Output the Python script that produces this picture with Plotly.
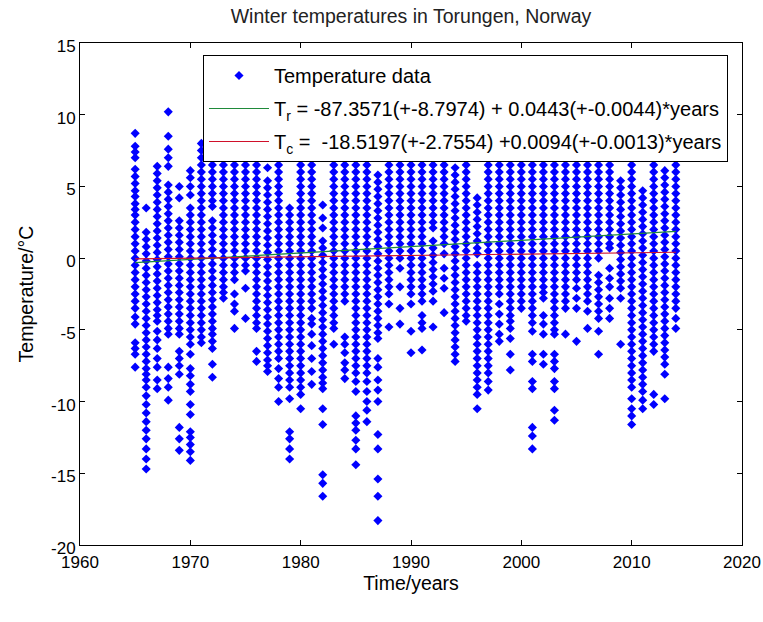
import plotly.graph_objects as go

# Winter (Dec-Feb) seasons shown as columns
winters = list(range(1965, 2015))

# Daily winter temperatures (deg C) per season
t1965 = [8.7, 7.8, 7.4, 7.0, 6.2, 5.7, 5.2, 4.7, 4.3, 3.8, 3.4, 3.0, 2.5, 2.0, 1.5, 1.0, 0.5, 0.0, -0.5, -1.0, -1.5, -2.0, -2.5, -3.0, -3.5, -4.1, -4.6, -5.9, -6.3, -6.7, -7.6]
t1966 = [3.5, 1.8, 1.3, 0.8, 0.3, -0.2, -0.7, -1.2, -1.7, -2.2, -2.7, -3.2, -3.7, -4.2, -4.7, -5.2, -5.7, -6.2, -6.7, -7.2, -7.7, -8.1, -8.5, -9.0, -9.6, -10.2, -10.8, -11.4, -12.0, -12.6, -13.3, -14.0, -14.7]
t1967 = [6.4, 5.9, 5.4, 4.9, 4.4, 3.9, 3.4, 2.9, 2.4, 1.9, 1.4, 0.9, 0.4, -0.1, -0.6, -1.1, -1.6, -2.1, -2.6, -3.1, -3.6, -4.0, -4.4, -5.1, -5.7, -6.3, -7.0, -7.6, -8.5, -9.1]
t1968 = [10.2, 8.5, 7.6, 7.0, 6.4, 5.1, 4.6, 4.1, 3.6, 3.1, 2.6, 2.1, 1.6, 1.1, 0.6, 0.1, -0.4, -0.9, -1.4, -1.9, -2.4, -2.9, -3.4, -3.9, -4.4, -4.9, -5.3, -7.6, -8.4, -9.0, -9.9]
t1969 = [5.0, 4.2, 2.6, 2.1, 1.6, 1.1, 0.6, 0.1, -0.4, -0.9, -1.4, -1.9, -2.4, -2.9, -3.4, -3.9, -4.4, -4.9, -5.3, -6.5, -7.0, -7.5, -8.1, -11.8, -12.6, -13.4]
t1970 = [6.1, 5.6, 5.0, 4.4, 3.5, 3.0, 2.5, 2.0, 1.5, 1.0, 0.5, 0.0, -0.5, -1.0, -1.5, -2.0, -2.5, -3.0, -3.5, -4.0, -4.5, -5.0, -5.5, -6.0, -6.7, -7.7, -8.2, -8.8, -9.3, -10.2, -10.9, -12.1, -12.5, -13.0, -13.5, -14.1]
t1971 = [8.0, 7.5, 7.0, 6.5, 6.0, 5.5, 5.0, 4.5, 4.0, 3.5, 3.0, 2.5, 2.0, 1.5, 1.0, 0.5, 0.0, -0.5, -1.0, -1.5, -2.0, -2.5, -3.0, -3.5, -4.0, -4.5, -5.0, -5.5, -5.9]
t1972 = [8.5, 8.0, 7.5, 7.0, 6.5, 6.0, 5.5, 5.0, 4.5, 4.0, 3.6, 2.6, 2.1, 1.6, 1.1, 0.6, 0.1, -0.4, -0.9, -1.4, -1.9, -2.4, -2.9, -3.4, -3.9, -4.4, -4.9, -5.3, -5.8, -6.3, -7.4, -8.3]
t1973 = [8.5, 8.0, 7.5, 7.0, 6.5, 6.0, 5.5, 5.0, 4.5, 4.0, 3.5, 3.0, 2.5, 2.0, 1.5, 1.0, 0.5, 0.0, -0.5, -1.0, -1.5, -2.0, -2.4, -2.8]
t1974 = [8.5, 8.0, 7.5, 7.0, 6.5, 6.0, 5.5, 5.0, 4.5, 4.0, 3.5, 3.0, 2.5, 2.0, 1.5, 1.0, 0.5, 0.0, -0.5, -1.0, -1.5, -2.5, -3.2, -3.7, -4.9]
t1975 = [8.5, 8.0, 7.5, 7.0, 6.5, 6.0, 5.5, 5.0, 4.5, 4.0, 3.5, 3.0, 2.5, 2.0, 1.5, 1.0, 0.5, 0.0, -0.5, -0.9, -2.1, -4.2]
t1976 = [8.5, 8.0, 7.5, 7.0, 6.5, 6.0, 5.5, 5.0, 4.5, 4.0, 3.5, 3.0, 2.5, 2.0, 1.5, 1.0, 0.5, 0.0, -0.5, -1.0, -1.5, -2.0, -2.5, -3.0, -3.5, -4.0, -4.5, -4.9, -6.5, -7.2]
t1977 = [6.3, 5.4, 4.9, 4.4, 3.9, 3.4, 2.9, 2.4, 1.9, 1.4, 0.9, 0.4, -0.1, -0.6, -1.1, -1.6, -2.1, -2.6, -3.1, -3.6, -4.1, -4.6, -5.1, -5.6, -6.1, -6.6, -7.1, -7.5, -7.9]
t1978 = [8.5, 8.0, 7.5, 7.0, 6.5, 6.0, 5.5, 5.0, 4.5, 4.0, 3.5, 3.0, 2.5, 2.0, 1.5, 1.0, 0.5, 0.0, -0.5, -1.0, -1.5, -2.0, -2.5, -3.0, -3.5, -4.0, -4.5, -5.0, -5.5, -6.0, -6.5, -7.0, -7.7, -8.4, -9.0, -10.0]
t1979 = [3.5, 3.0, 2.5, 2.0, 1.5, 1.0, 0.5, 0.0, -0.5, -1.0, -1.5, -2.0, -2.5, -3.0, -3.5, -4.0, -4.5, -5.0, -5.5, -6.0, -6.5, -7.0, -7.5, -8.0, -8.5, -9.0, -9.8, -12.1, -12.6, -13.3, -14.0]
t1980 = [8.5, 8.0, 7.5, 7.0, 6.5, 6.0, 5.5, 5.0, 4.5, 4.0, 3.5, 3.0, 2.5, 2.0, 1.5, 1.0, 0.5, 0.0, -0.5, -1.0, -1.5, -2.0, -2.5, -3.0, -3.5, -4.0, -4.5, -5.0, -5.5, -6.0, -6.5, -7.0, -7.5, -8.0, -8.5, -9.0, -9.5, -10.5]
t1981 = [8.5, 8.0, 7.5, 7.0, 6.5, 6.0, 5.5, 5.0, 4.5, 4.0, 3.5, 3.0, 2.5, 2.0, 1.5, 1.0, 0.5, 0.0, -0.5, -1.0, -1.5, -2.0, -2.5, -3.0, -3.5, -4.2, -4.6, -5.3, -6.1, -7.0, -7.9, -8.8]
t1982 = [3.7, 2.8, 2.1, 1.2, 0.7, 0.2, -0.3, -0.8, -1.3, -1.8, -2.3, -2.8, -3.3, -3.8, -4.3, -4.8, -5.3, -5.8, -6.3, -6.8, -7.3, -7.8, -8.3, -8.7, -9.1, -10.5, -11.6, -15.1, -15.7, -16.6]
t1983 = [8.5, 8.0, 7.5, 7.0, 6.5, 6.0, 5.5, 5.0, 4.5, 4.0, 3.5, 3.0, 2.5, 2.0, 1.5, 1.0, 0.5, 0.0, -0.5, -1.0, -1.5, -2.0, -2.5, -3.0, -3.5, -4.0, -4.5, -4.9, -6.0]
t1984 = [8.5, 8.0, 7.5, 7.0, 6.5, 6.0, 5.5, 5.0, 4.5, 4.0, 3.5, 3.0, 2.5, 2.0, 1.5, 1.0, 0.5, 0.0, -0.5, -1.0, -1.5, -2.0, -2.5, -3.0, -5.5, -6.0, -6.6, -7.3, -7.8, -8.4]
t1985 = [8.5, 8.0, 7.5, 7.0, 6.5, 6.0, 5.5, 5.0, 4.5, 4.0, 3.5, 3.0, 2.5, 2.0, 1.5, 1.0, 0.5, 0.0, -0.5, -1.0, -1.5, -2.0, -2.5, -3.0, -3.5, -4.0, -4.5, -5.0, -5.5, -6.0, -6.5, -7.0, -7.5, -8.0, -8.6, -9.3, -11.0, -11.5, -12.0, -12.7, -13.3, -14.4]
t1986 = [8.5, 8.0, 7.5, 7.0, 6.5, 6.0, 5.5, 5.0, 4.5, 4.0, 3.5, 3.0, 2.5, 2.0, 1.5, 1.0, 0.5, 0.0, -0.5, -1.0, -1.5, -2.0, -2.5, -3.0, -3.5, -4.0, -4.5, -5.0, -5.5, -6.0, -6.5, -7.0, -7.5, -8.0, -8.6, -9.3, -10.0, -10.6, -11.4]
t1987 = [5.8, 5.3, 4.8, 4.3, 3.8, 3.3, 2.8, 2.3, 1.8, 1.3, 0.8, 0.3, -0.2, -0.7, -1.2, -1.7, -2.2, -2.7, -3.2, -3.7, -4.2, -4.7, -5.2, -5.6, -7.0, -7.6, -8.5, -9.2, -10.0, -12.3, -13.3, -15.4, -16.6, -18.3]
t1988 = [8.5, 8.0, 7.5, 7.0, 6.5, 6.0, 5.5, 5.0, 4.5, 4.0, 3.5, 3.0, 2.5, 2.0, 1.5, 1.0, 0.5, 0.0, -0.5, -1.0, -1.5, -2.0, -2.5, -3.2, -4.8]
t1989 = [8.5, 8.0, 7.5, 7.0, 6.5, 6.0, 5.5, 5.0, 4.5, 4.0, 3.5, 3.0, 2.5, 2.0, 1.5, 1.0, 0.5, 0.0, -0.7, -2.0, -3.5, -4.6]
t1990 = [8.5, 8.0, 7.5, 7.0, 6.5, 6.0, 5.5, 5.0, 4.5, 4.0, 3.5, 3.0, 2.5, 2.0, 1.5, 1.0, 0.5, 0.0, -0.5, -1.0, -1.5, -2.0, -2.5, -3.2, -5.1, -6.6]
t1991 = [8.5, 8.0, 7.5, 7.0, 6.5, 6.0, 5.5, 5.0, 4.5, 4.0, 3.5, 3.0, 2.5, 2.0, 1.5, 1.0, 0.5, 0.0, -0.5, -1.0, -1.5, -2.0, -2.5, -3.0, -4.0, -4.5, -4.9, -6.4]
t1992 = [8.5, 8.0, 7.5, 7.0, 6.5, 6.0, 5.5, 5.0, 4.5, 4.0, 3.5, 3.0, 2.5, 2.1, 1.2, 0.7, 0.2, -0.3, -0.8, -1.3, -1.8, -2.3, -3.0, -4.8]
t1993 = [8.5, 8.0, 7.5, 7.0, 6.5, 6.0, 5.5, 5.0, 4.5, 4.0, 3.5, 3.0, 2.5, 2.0, 1.5, 1.0, 0.3, -0.7, -1.4, -2.1, -3.8]
t1994 = [8.5, 8.0, 7.5, 7.0, 6.3, 5.8, 5.3, 4.8, 4.3, 3.8, 3.3, 2.8, 2.3, 1.8, 1.3, 0.8, 0.3, -0.2, -0.7, -1.2, -1.7, -2.2, -2.7, -3.2, -3.7, -4.2, -4.7, -5.2, -5.7, -6.2, -6.7, -7.2]
t1995 = [8.5, 8.0, 7.5, 7.0, 6.5, 6.0, 5.5, 5.0, 4.5, 4.0, 3.5, 3.0, 2.5, 2.0, 1.5, 1.0, 0.5, 0.0, -0.5, -1.0, -1.5, -2.0, -2.5, -3.0, -3.5, -4.0, -4.4]
t1996 = [4.2, 3.7, 3.2, 2.7, 2.2, 1.7, 1.2, 0.7, 0.3, -0.5, -1.0, -1.5, -2.0, -2.5, -3.0, -3.5, -4.0, -4.5, -5.0, -5.5, -6.0, -6.5, -7.0, -7.5, -8.0, -8.5, -9.0, -9.5, -10.5]
t1997 = [8.5, 8.0, 7.5, 7.0, 6.5, 6.0, 5.5, 5.0, 4.5, 4.0, 3.5, 3.0, 2.5, 2.0, 1.5, 1.0, 0.5, 0.0, -0.5, -1.0, -1.5, -2.0, -2.5, -3.0, -3.5, -4.0, -4.5, -5.0, -5.5, -6.0, -6.5, -7.0, -7.5, -8.0, -8.6, -9.2]
t1998 = [8.5, 8.0, 7.5, 7.0, 6.5, 6.0, 5.5, 5.0, 4.5, 4.0, 3.5, 3.0, 2.5, 2.0, 1.5, 1.0, 0.5, 0.0, -0.5, -1.0, -1.5, -2.0, -2.5, -3.2, -3.9, -4.6, -5.3, -5.8]
t1999 = [6.5, 6.0, 5.5, 5.0, 4.5, 4.0, 3.5, 3.0, 2.5, 2.0, 1.5, 1.0, 0.5, 0.0, -0.5, -1.0, -1.5, -2.0, -2.5, -3.0, -3.5, -4.0, -4.4, -4.9, -5.6, -6.7, -7.8]
t2000 = [8.5, 8.0, 7.5, 7.0, 6.5, 6.0, 5.5, 5.0, 4.5, 4.0, 3.5, 3.0, 2.5, 2.0, 1.5, 1.0, 0.5, 0.0, -0.5, -1.0, -1.5, -2.0, -2.5, -3.0, -3.5]
t2001 = [6.5, 6.0, 5.5, 5.0, 4.5, 4.0, 3.5, 3.0, 2.5, 2.0, 1.5, 1.0, 0.5, 0.0, -0.5, -1.0, -1.5, -2.0, -2.5, -3.0, -3.5, -4.0, -4.5, -5.1, -6.7, -7.2, -8.6, -9.1, -11.8, -12.4, -13.3]
t2002 = [8.5, 8.0, 7.5, 7.0, 6.5, 6.0, 5.5, 5.0, 4.5, 4.0, 3.5, 3.0, 2.5, 2.0, 1.5, 1.0, 0.5, 0.0, -0.5, -1.0, -1.5, -2.0, -2.4, -2.8, -4.0, -4.6, -5.3, -6.7, -7.4]
t2003 = [8.5, 8.0, 7.5, 7.0, 6.5, 6.0, 5.5, 5.0, 4.5, 4.0, 3.5, 3.0, 2.5, 2.0, 1.5, 1.0, 0.5, 0.0, -0.5, -1.0, -1.5, -2.0, -2.5, -3.0, -3.5, -4.0, -4.5, -5.0, -5.3, -6.7, -7.2, -7.7, -8.6, -9.1, -10.6, -11.3]
t2004 = [8.5, 8.0, 7.5, 7.0, 6.5, 6.0, 5.5, 5.0, 4.5, 4.0, 3.5, 3.0, 2.5, 2.0, 1.5, 1.0, 0.5, 0.0, -0.5, -1.0, -1.5, -2.0, -2.5, -3.0, -3.5, -5.3]
t2005 = [8.5, 8.0, 7.5, 7.0, 6.5, 6.0, 5.5, 5.0, 4.5, 4.0, 3.5, 3.0, 2.5, 2.0, 1.5, 1.0, 0.5, 0.0, -0.5, -1.0, -1.5, -2.1, -2.8, -3.5, -5.8]
t2006 = [8.5, 8.0, 7.5, 7.0, 6.5, 6.0, 5.5, 5.0, 4.5, 4.0, 3.5, 3.0, 2.5, 2.0, 1.5, 1.0, 0.5, 0.0, -0.5, -1.0, -1.5, -2.0, -2.5, -3.0, -3.7, -4.9]
t2007 = [8.5, 8.0, 7.5, 7.0, 6.5, 6.0, 5.5, 5.0, 4.5, 4.0, 3.5, 3.0, 2.5, 2.0, 1.5, 1.0, 0.5, 0.0, -1.2, -1.7, -2.2, -2.7, -3.2, -3.7, -4.2, -5.1, -6.7]
t2008 = [8.5, 8.0, 7.5, 7.0, 6.5, 6.0, 5.5, 5.0, 4.5, 4.0, 3.5, 3.0, 2.5, 2.0, 1.5, 1.0, 0.7, -0.7, -1.4, -2.0, -2.8, -3.5, -4.2]
t2009 = [5.4, 4.9, 4.4, 3.9, 3.4, 2.9, 2.4, 1.9, 1.4, 0.9, 0.4, -0.1, -0.6, -1.1, -1.6, -2.1, -2.8, -6.0]
t2010 = [8.5, 8.0, 7.5, 7.0, 6.5, 6.0, 5.5, 5.0, 4.5, 4.0, 3.5, 3.0, 2.5, 2.0, 1.5, 1.0, 0.5, 0.0, -0.5, -1.0, -1.5, -2.0, -2.5, -3.0, -3.5, -4.0, -4.5, -5.0, -5.5, -6.0, -6.5, -7.0, -7.5, -8.0, -8.5, -9.0, -9.8, -10.5, -11.0, -11.6]
t2011 = [4.7, 4.2, 3.7, 3.2, 2.7, 2.2, 1.7, 1.2, 0.7, 0.2, -0.3, -0.8, -1.3, -1.8, -2.3, -2.8, -3.3, -3.8, -4.3, -4.8, -5.3, -5.8, -6.3, -6.8, -7.3, -7.8, -8.3, -8.8, -9.3, -9.9, -10.5]
t2012 = [8.5, 8.0, 7.5, 7.0, 6.5, 6.0, 5.5, 5.0, 4.5, 4.0, 3.5, 3.0, 2.5, 2.0, 1.5, 1.0, 0.5, 0.0, -0.5, -1.0, -1.5, -2.0, -2.5, -3.0, -3.5, -4.0, -4.5, -5.0, -5.5, -6.0, -6.5, -9.5, -10.2]
t2013 = [6.1, 5.6, 5.1, 4.6, 4.1, 3.6, 3.1, 2.6, 2.1, 1.6, 1.1, 0.6, 0.1, -0.4, -0.9, -1.4, -1.9, -2.4, -2.9, -3.4, -3.9, -4.4, -4.9, -5.4, -5.9, -6.4, -6.9, -7.4, -8.1, -9.8]
t2014 = [8.5, 8.0, 7.5, 7.0, 6.5, 6.0, 5.5, 5.0, 4.5, 4.0, 3.5, 3.0, 2.5, 2.0, 1.5, 1.0, 0.5, 0.0, -0.5, -1.0, -1.5, -2.0, -2.5, -3.0, -3.5, -4.2, -4.9]

season_temps = [t1965, t1966, t1967, t1968, t1969, t1970, t1971, t1972, t1973, t1974,
                t1975, t1976, t1977, t1978, t1979, t1980, t1981, t1982, t1983, t1984,
                t1985, t1986, t1987, t1988, t1989, t1990, t1991, t1992, t1993, t1994,
                t1995, t1996, t1997, t1998, t1999, t2000, t2001, t2002, t2003, t2004,
                t2005, t2006, t2007, t2008, t2009, t2010, t2011, t2012, t2013, t2014]

# Regression coefficients given in the legend
fit_r = (-87.3571, 0.0443)
fit_c = (-18.5197, 0.0094)

# Tick labels
x_ticks = [1960, 1970, 1980, 1990, 2000, 2010, 2020]
y_ticks = [-20, -15, -10, -5, 0, 5, 10, 15]
y_ticklabels = ["-20", "-15", "-10", "-5", "0", "5", "10", "15"]

xs, ys = [], []
for yr, temps in zip(winters, season_temps):
    for t in temps:
        xs.append(yr)
        ys.append(t)

x_line = [min(winters), max(winters)]
yr_line = [fit_r[0] + fit_r[1] * x for x in x_line]
yc_line = [fit_c[0] + fit_c[1] * x for x in x_line]

FONT = "Liberation Sans, Arial, sans-serif"

fig = go.Figure()
fig.add_trace(go.Scatter(x=xs, y=ys, mode="markers", name="Temperature data",
                         legendgroup="a",
                         marker=dict(symbol="diamond", size=7, color="#0000ff",
                                     line=dict(width=0))))
fig.add_trace(go.Scatter(x=x_line, y=yr_line, mode="lines", legendgroup="b",
                         name="T<sub>r</sub> = -87.3571(+-8.7974) + 0.0443(+-0.0044)*years",
                         line=dict(color="#1f8a3a", width=1.2)))
fig.add_trace(go.Scatter(x=x_line, y=yc_line, mode="lines", legendgroup="c",
                         name="T<sub>c</sub> =\u00a0 -18.5197(+-2.7554) +0.0094(+-0.0013)*years",
                         line=dict(color="#d0102a", width=1.2)))

axis_common = dict(showline=True, linecolor="black", linewidth=1, mirror="ticks",
                   ticks="inside", ticklen=5, tickcolor="black", showgrid=False,
                   zeroline=False, automargin=False, ticklabeloverflow="allow",
                   tickfont=dict(family=FONT, size=17, color="black"))

fig.update_layout(
    width=763, height=622,
    margin=dict(l=80, r=21, t=43, b=77, autoexpand=False),
    paper_bgcolor="white", plot_bgcolor="white",
    font=dict(family=FONT, color="black"),
    title=dict(text="Winter temperatures in Torungen, Norway", xref="paper", x=0.5,
               xanchor="center", y=1 - 16 / 622, yanchor="middle",
               font=dict(family=FONT, size=19.5, color="#222")),
    xaxis=dict(range=[1960, 2020], tickvals=x_ticks, ticklabelstandoff=2,
               title=dict(text="Time/years", font=dict(family=FONT, size=19.5), standoff=1),
               **axis_common),
    yaxis=dict(range=[-20, 15], tickvals=y_ticks, ticktext=y_ticklabels, ticklabelshift=3,
               title=dict(text="Temperature/°C", font=dict(family=FONT, size=19.5), standoff=12),
               **axis_common),
    legend=dict(x=(203 - 80) / 662, y=(545 - 55) / 502, xanchor="left", yanchor="top",
                bgcolor="white", bordercolor="black", borderwidth=1,
                font=dict(family=FONT, size=20, color="black"), itemwidth=60,
                tracegroupgap=4),
    showlegend=True,
)

fig.write_html("out.html", config={"displayModeBar": False},
               post_script="document.body.style.margin='0';")
